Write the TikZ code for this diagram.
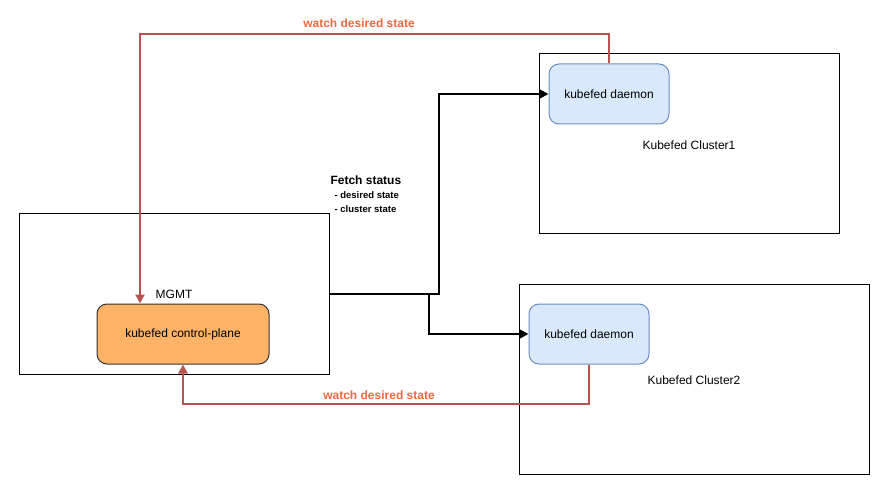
\documentclass[tikz,border=0pt]{standalone}
\usepackage{fontspec}
\setmainfont{Liberation Sans}
\usetikzlibrary{arrows.meta}

\begin{document}
\begin{tikzpicture}
  [x=1pt,y=-1pt,line join=miter,
   % Styles
   frame box/.style={draw=black,line width=1pt,minimum width=#1},
   daemon box/.style={draw=daemonline,fill=daemonfill,rounded corners=10pt,line width=1pt,
     minimum width=120pt,minimum height=60pt,font=\fontsize{12}{14}\selectfont},
   plane box/.style={draw=black!80,fill=planefill,rounded corners=10pt,line width=1pt,
     minimum width=172pt,minimum height=60pt,font=\fontsize{12}{14}\selectfont},
   fetch line/.style={draw=black,line width=2pt,-{Triangle[length=9pt,width=9pt]}},
   watch line/.style={draw=watchline,line width=2pt,-{Triangle[length=9pt,width=9pt]}},
   watch text/.style={text=watchtext,font=\bfseries\fontsize{12}{14}\selectfont},
   plain text/.style={font=\fontsize{12}{14}\selectfont}]

  % Colors
  \definecolor{watchline}{HTML}{B85450}
  \definecolor{watchtext}{HTML}{F2683F}
  \definecolor{daemonfill}{HTML}{DAE8FC}
  \definecolor{daemonline}{HTML}{6C8EBF}
  \definecolor{planefill}{HTML}{FFB366}

  \useasboundingbox (0,0) rectangle (885,486);

  % Cluster frames
  \node[frame box=310pt,minimum height=160pt] (mgmt) at (174.5,294) {};
  \node[frame box=300pt,minimum height=180pt] (cluster1) at (689,144) {};
  \node[frame box=350pt,minimum height=190pt] (cluster2) at (694,379) {};

  % Inner boxes
  \node[plane box] (plane) at (183,334) {kubefed control-plane};
  \node[daemon box] (daemon1) at (609,94) {kubefed daemon};
  \node[daemon box] (daemon2) at (589,334) {kubefed daemon};

  % Frame labels
  \node[plain text] (mgmtlabel) at (174,294) {MGMT};
  \node[plain text] (c1label) at (689,145) {Kubefed Cluster1};
  \node[plain text] (c2label) at (694,380) {Kubefed Cluster2};

  % Fetch connectors
  \coordinate (fork) at (439,294);
  \coordinate (branch) at (429,294);
  \draw[fetch line] (mgmt.east) -- (fork) |- (daemon1.west);
  \draw[fetch line] (branch) |- (daemon2.west);

  \node[anchor=base west,font=\bfseries\fontsize{12}{14}\selectfont] (fetch) at (327,185) {Fetch status};
  \node[anchor=base west,font=\bfseries\fontsize{9.5}{11}\selectfont] (fetchdesired) at (331,199) {- desired state};
  \node[anchor=base west,font=\bfseries\fontsize{9.5}{11}\selectfont] (fetchcluster) at (331,213) {- cluster state};

  % Watch connectors
  \coordinate (topturn) at (140,34);
  \coordinate (bottomturn) at (183,404);
  \draw[watch line] (daemon1.north) |- (topturn) -- (topturn |- plane.north);
  \draw[watch line] (daemon2.south) |- (bottomturn) -- (plane.south);

  \node[watch text] (topwatch) at (359,23) {watch desired state};
  \node[watch text] (bottomwatch) at (379,395) {watch desired state};
\end{tikzpicture}
\end{document}
